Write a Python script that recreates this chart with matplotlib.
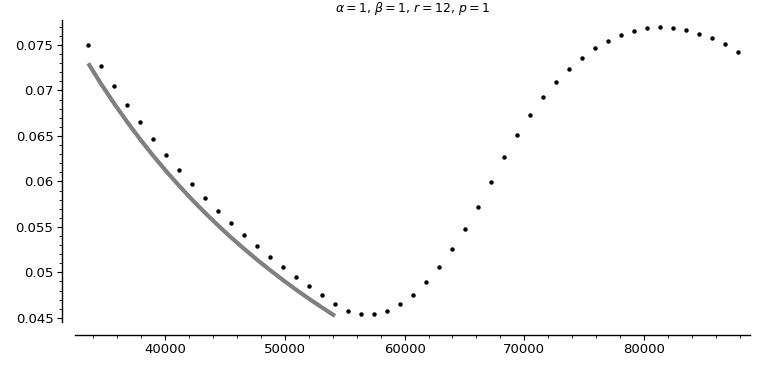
import matplotlib
matplotlib.use("Agg")
import matplotlib.pyplot as plt
from matplotlib.ticker import MultipleLocator

# data
x_dots = [33566, 34651, 35737, 36822, 37907, 38993, 40078, 41163, 42248, 43334,
          44419, 45504, 46590, 47675, 48760, 49846, 50931, 52016, 53101, 54187,
          55272, 56357, 57443, 58528, 59613, 60699, 61784, 62869, 63954, 65040,
          66125, 67210, 68296, 69381, 70466, 71552, 72637, 73722, 74807, 75893,
          76978, 78063, 79149, 80234, 81319, 82405, 83490, 84575, 85660, 86746,
          87831]
y_dots = [0.07503, 0.07272, 0.07049, 0.06843, 0.06650, 0.06463, 0.06290, 0.06122,
          0.05968, 0.05820, 0.05674, 0.05542, 0.05413, 0.05289, 0.05171, 0.05058,
          0.04951, 0.04849, 0.04750, 0.04658, 0.04577, 0.04541, 0.04541, 0.04577,
          0.04651, 0.04753, 0.04893, 0.05058, 0.05253, 0.05474, 0.05721, 0.05990,
          0.06265, 0.06510, 0.06730, 0.06925, 0.07093, 0.07239, 0.07360, 0.07467,
          0.07547, 0.07613, 0.07657, 0.07684, 0.07695, 0.07687, 0.07665, 0.07624,
          0.07574, 0.07508, 0.07426]

x_curve = [33566, 34651, 35737, 36822, 37907, 38993, 40078, 41163, 42248, 43334,
           44419, 45504, 46590, 47675, 48760, 49846, 50931, 52016, 53101, 54187]
y_curve = [0.07299, 0.07070, 0.06856, 0.06654, 0.06463, 0.06283, 0.06113, 0.05952,
           0.05799, 0.05654, 0.05516, 0.05384, 0.05259, 0.05139, 0.05025, 0.04915,
           0.04810, 0.04710, 0.04614, 0.04521]

x_ticks = [40000, 50000, 60000, 70000, 80000]
x_tick_labels = ["40000", "50000", "60000", "70000", "80000"]
y_ticks = [0.045, 0.05, 0.055, 0.06, 0.065, 0.07, 0.075]
y_tick_labels = ["0.045", "0.05", "0.055", "0.06", "0.065", "0.07", "0.075"]

title = r"$\alpha = 1$, $\beta = 1$, $r = 12$, $p = 1$"

fig = plt.figure(figsize=(7.61, 3.76), dpi=100)
ax = fig.add_axes([75 / 761, 1 - 321.7 / 376, (750 - 75) / 761, (321.7 - 20) / 376])

ax.plot(x_curve, y_curve, color=(0.5, 0.5, 0.5), lw=3, solid_capstyle="butt", zorder=2)
ax.plot(x_dots, y_dots, linestyle="none", marker="o", markersize=3.2, markeredgewidth=0,
        color="black", zorder=3)

ax.set_xlim(32460, 88860)
ax.set_ylim(0.04458, 0.07775)

for s in ("top", "right"):
    ax.spines[s].set_visible(False)
ax.spines["left"].set_position(("outward", 9.5))
ax.spines["bottom"].set_position(("outward", 9.6))
for s in ("left", "bottom"):
    ax.spines[s].set_linewidth(1.0)

ax.set_xticks(x_ticks)
ax.set_xticklabels(x_tick_labels)
ax.set_yticks(y_ticks)
ax.set_yticklabels(y_tick_labels)
ax.xaxis.set_minor_locator(MultipleLocator(2000))
ax.yaxis.set_minor_locator(MultipleLocator(0.001))
ax.tick_params(which="major", length=3.5, width=0.8, labelsize=9.5, pad=2.5, direction="out")
ax.tick_params(which="minor", length=2, width=0.6, direction="out")

ax.set_title(title, fontsize=9, pad=6)

fig.savefig("out.png", dpi=100)
